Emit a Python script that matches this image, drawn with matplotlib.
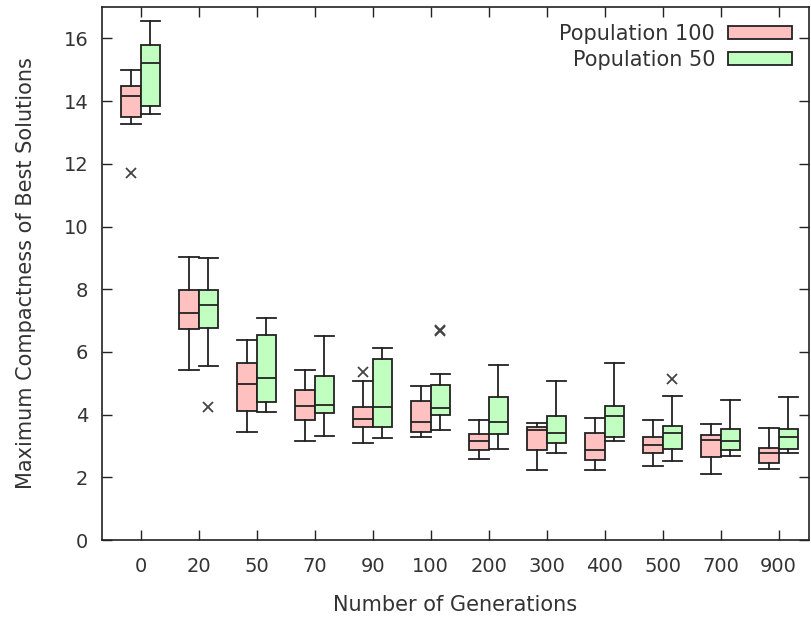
import matplotlib
matplotlib.use('Agg')
import matplotlib.pyplot as plt
from matplotlib.patches import Patch

generations = ['0', '20', '50', '70', '90', '100', '200', '300', '400', '500', '700', '900']

# population 100: whisker low, q1, median, q3, whisker high
p100_lo  = [13.28, 5.41, 3.45, 3.16, 3.10, 3.28, 2.59, 2.22, 2.22, 2.35, 2.09, 2.26]
p100_q1  = [13.49, 6.73, 4.13, 3.84, 3.59, 3.44, 2.86, 2.86, 2.55, 2.76, 2.65, 2.46]
p100_med = [14.17, 7.25, 4.98, 4.27, 3.85, 3.78, 3.16, 3.50, 2.86, 3.03, 3.20, 2.77]
p100_q3  = [14.47, 7.96, 5.65, 4.80, 4.25, 4.42, 3.39, 3.61, 3.40, 3.28, 3.36, 2.94]
p100_hi  = [14.98, 9.03, 6.39, 5.41, 5.07, 4.90, 3.84, 3.74, 3.88, 3.84, 3.71, 3.58]
p100_out = [[11.71], [], [], [], [5.37], [], [], [], [], [], [], []]

# population 50
p50_lo  = [13.59, 5.54, 4.09, 3.33, 3.24, 3.50, 2.90, 2.77, 3.16, 2.51, 2.69, 2.77]
p50_q1  = [13.83, 6.77, 4.39, 4.04, 3.59, 3.99, 3.39, 3.11, 3.28, 2.89, 2.86, 2.90]
p50_med = [15.21, 7.50, 5.16, 4.30, 4.25, 4.22, 3.78, 3.41, 3.95, 3.41, 3.16, 3.28]
p50_q3  = [15.80, 7.96, 6.54, 5.23, 5.78, 4.93, 4.56, 3.95, 4.29, 3.65, 3.54, 3.54]
p50_hi  = [16.55, 8.98, 7.07, 6.50, 6.13, 5.28, 5.58, 5.07, 5.66, 4.59, 4.47, 4.56]
p50_out = [[], [4.25], [], [], [], [6.68, 6.71], [], [], [], [5.15], [], []]

pink = '#ffc0c0'
green = '#c0ffc0'
edge = '#222222'
txt = '#333333'


def make_stats(lo, q1, med, q3, hi, out):
    stats = []
    for i in range(len(lo)):
        stats.append({'whislo': lo[i], 'q1': q1[i], 'med': med[i],
                      'q3': q3[i], 'whishi': hi[i], 'fliers': out[i]})
    return stats


fig = plt.figure(figsize=(8.12, 6.19), dpi=100)
ax = fig.add_axes([0.126, 0.1276, 0.870, 0.861])

pos = list(range(1, len(generations) + 1))
w = 0.34
lw = 1.3
for stats, col, shift in [(make_stats(p100_lo, p100_q1, p100_med, p100_q3, p100_hi, p100_out), pink, -w / 2),
                          (make_stats(p50_lo, p50_q1, p50_med, p50_q3, p50_hi, p50_out), green, w / 2)]:
    ax.bxp(stats, positions=[p + shift for p in pos], widths=w, capwidths=w,
           patch_artist=True, manage_ticks=False,
           boxprops=dict(facecolor=col, edgecolor=edge, linewidth=lw),
           medianprops=dict(color=edge, linewidth=lw),
           whiskerprops=dict(color=edge, linewidth=lw),
           capprops=dict(color=edge, linewidth=lw),
           flierprops=dict(marker='x', markeredgecolor='#444444', markersize=7,
                           markeredgewidth=1.3, linestyle='none'))

ax.set_xlim(0.34, 12.52)
ax.set_ylim(0, 17)
ax.set_xticks(pos)
ax.set_xticklabels(generations)
ax.set_yticks(range(0, 17, 2))
ax.tick_params(direction='in', length=7, width=1, top=True, right=True,
               labelsize=14, colors=edge, labelcolor=txt)
ax.tick_params(axis='y', pad=10)
ax.tick_params(axis='x', pad=12)
for s in ax.spines.values():
    s.set_color(edge)
    s.set_linewidth(1.2)

ax.set_xlabel('Number of Generations', fontsize=15, color=txt, labelpad=14)
ax.set_ylabel('Maximum Compactness of Best Solutions', fontsize=15, color=txt, labelpad=20)

handles = [Patch(facecolor=pink, edgecolor=edge, linewidth=lw, label='Population 100'),
           Patch(facecolor=green, edgecolor=edge, linewidth=lw, label='Population 50')]
leg = ax.legend(handles=handles, loc='upper right', frameon=False, markerfirst=False,
                fontsize=15, handlelength=3.1, handleheight=0.62, labelspacing=0.3,
                handletextpad=0.6, borderaxespad=0.4)
for t in leg.get_texts():
    t.set_color(txt)
    t.set_ha('right')

fig.savefig('out.png', dpi=100)
